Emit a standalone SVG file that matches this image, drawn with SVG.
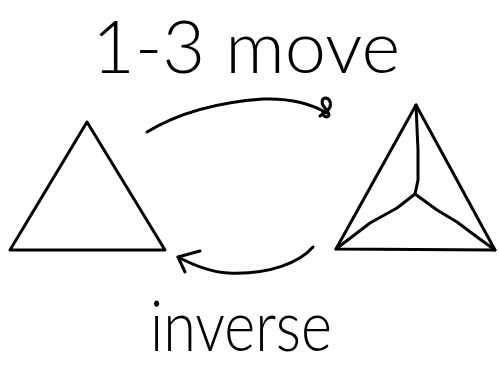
<svg xmlns="http://www.w3.org/2000/svg" width="499" height="367" viewBox="0 0 499 367">
<style>
.ink{fill:none;stroke:#000;stroke-width:3;stroke-linecap:round;stroke-linejoin:round}
.lbl{font-family:Lato,"Liberation Sans",sans-serif;font-weight:300;fill:#000}
</style>
<rect width="499" height="367" fill="#fff"/>
<g id="label-move"><text class="lbl" x="92" y="73" font-size="73" textLength="308" lengthAdjust="spacingAndGlyphs">1-3 move</text></g>
<g id="label-inverse"><text class="lbl" x="150" y="351" font-size="70" textLength="182" lengthAdjust="spacingAndGlyphs">inverse</text></g>
<g id="triangle-left"><path class="ink" d="M87,122 L10,250 L165,250 Z"/></g>
<g id="triangle-right">
<path class="ink" d="M416,105 L336,249 L495,250 Z"/>
<path class="ink" d="M416,105 L418,150 L418,180 L415,194"/>
<path class="ink" d="M415,194 L397,208 L370,223 L336,249"/>
<path class="ink" d="M415,194 L437,210 L457,222 L477,237 L495,250"/>
</g>
<g id="connectors">
<path class="ink" d="M147,132 C180,112 220,102 263,99 C290,98 310,103 327,113"/>
<path class="ink" d="M320,116 L328,110 C332,106 331,99 326,98 C321,98 321,104 325,108 C328,112 331,116 327,117 C324,117 322,114 323,112"/>
<path class="ink" d="M313,247 C300,262 270,275 228,273 C210,272 195,266 178,257"/>
<path class="ink" d="M185,272 L178,257 L200,251"/>
</g>
</svg>
